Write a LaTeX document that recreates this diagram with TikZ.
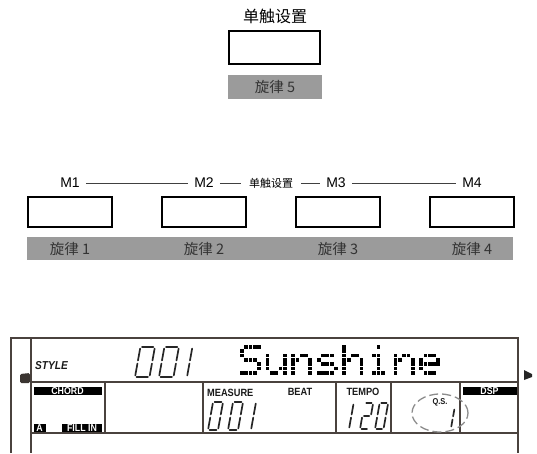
\documentclass[tikz,border=0pt]{standalone}
\usepackage{fontspec}
\setmainfont{Liberation Sans}
\newfontfamily\cjk{Noto Sans CJK SC}
\newfontfamily\lcdfont[FakeStretch=0.88]{Liberation Sans}
\usetikzlibrary{positioning,calc}
\definecolor{barfill}{HTML}{9B9B9B}
\definecolor{lcdline}{HTML}{4A423E}
\tikzset{
    key/.style = {draw, rectangle, line width=2.4pt,
        minimum width=84pt, minimum height=30pt, inner sep=0pt},
    mlabel/.style = {font=\fontsize{14}{16}\selectfont, inner xsep=6pt, inner ysep=0pt},
    touch/.style = {font=\cjk\fontsize{11}{13}\selectfont, inner xsep=8pt, inner ysep=0pt},
    bar/.style = {fill=barfill, inner sep=0pt, minimum height=23pt,
        text=black!80, font=\cjk\fontsize{14.5}{16}\selectfont},
    tag/.style = {fill=black, text=white, inner sep=0pt, minimum height=8pt,
        font=\lcdfont\bfseries\fontsize{10}{10}\selectfont},
    lcdtext/.style = {inner sep=0pt, text=black!90,
        font=\lcdfont\bfseries\fontsize{10.5}{10.5}\selectfont},
    lcd/.style = {draw=lcdline, line width=1.4pt},
    lcdseg/.style = {draw=black!85, line width=1.7pt, line cap=round,
        shorten >=1.6pt, shorten <=1.6pt}
}
% seven segment digit: x, y (top), width, height, segments
\def\digzero{a,b,c,d,e,f}
\def\digone{b,c}
\def\digtwo{a,b,g,e,d}
\newcommand\lcddigit[5]{%
    \begin{scope}[shift={(#1,#2)}]
        \coordinate (a1) at (0.18*#4,0);      \coordinate (a2) at (0.18*#4+#3,0);
        \coordinate (b1) at (0.18*#4+#3,0);   \coordinate (b2) at (0.09*#4+#3,#4/2);
        \coordinate (c1) at (0.09*#4+#3,#4/2); \coordinate (c2) at (#3,#4);
        \coordinate (d1) at (0,#4);           \coordinate (d2) at (#3,#4);
        \coordinate (e1) at (0.09*#4,#4/2);   \coordinate (e2) at (0,#4);
        \coordinate (f1) at (0.18*#4,0);      \coordinate (f2) at (0.09*#4,#4/2);
        \coordinate (g1) at (0.09*#4,#4/2);   \coordinate (g2) at (0.09*#4+#3,#4/2);
        \foreach \s in #5 {\draw[lcdseg] (\s1) -- (\s2);}
    \end{scope}}
% 5x7 dot matrix glyph: x, rows (bits, left column first)
\newcommand\dotglyph[2]{%
    \foreach \r [count=\j] in {#2}{
        \foreach \c in {1,...,5}{
            \pgfmathtruncatemacro\bit{mod(floor(\r/2^(5-\c)),2)}
            \ifnum\bit=1
                \fill[black] (#1+\c*4.3-4.3,345+\j*4.3-4.3) rectangle +(3.8,3.8);
            \fi
        }
    }}

\begin{document}
\begin{tikzpicture}[x=1pt, y=-1pt]
        \useasboundingbox (0,0) rectangle (537,453);
        % single touch key
        \node [touch, font=\cjk\fontsize{16}{18}\selectfont, inner sep=0pt] (touchtop) at (275,16) {单触设置};
        \node [key, minimum width=91pt, minimum height=33pt] (key5) at (274.5,47.5) {};
        \node [bar, minimum width=94pt, minimum height=24pt] (bar5) at (275,87) {旋律 5};
        % memory keys
        \node [mlabel] (m1) at (70,183) {M1};
        \node [mlabel, right of=m1, node distance=134pt] (m2) {M2};
        \node [touch, right of=m2, node distance=67pt] (touchmid) {单触设置};
        \node [mlabel, right of=m2, node distance=132pt] (m3) {M3};
        \node [mlabel, right of=m3, node distance=136pt] (m4) {M4};
        \draw [black!75, line width=0.8pt] (m1) -- (m2);
        \draw [black!75, line width=0.8pt] (m2) -- (touchmid);
        \draw [black!75, line width=0.8pt] (touchmid) -- (m3);
        \draw [black!75, line width=0.8pt] (m3) -- (m4);
        \node [bar, minimum width=486pt] (melbar) at (270,248.5) {};
        \foreach \a/\x in {1/70,2/204,3/338,4/472}{
            \node [key] (key\a) at (\x,212) {};
            \node [bar, fill=none] (mel\a) at (\x,249) {旋律 \a};
        }
        % lcd frame
        \draw [lcd] (11,453) -- (11,338) -- (518,338) -- (518,453);
        \draw [lcd] (31,338) -- (31,453);
        \draw [lcd] (31,382) -- (518,382);
        \draw [lcd] (31,433) -- (518,433);
        \foreach \x in {105,203,336,391,460}
            \draw [lcd] (\x,382) -- (\x,433);
        \fill [lcdline!80!black, rounded corners=1.5pt] (30,373) -- (20,374) -- (20,383) -- (30,383) -- cycle;
        \fill [black!85] (524,370) -- (532,374) -- (532,377) -- (524,380) -- cycle;
        % lcd texts
        \node [lcdtext, font=\lcdfont\bfseries\itshape\fontsize{11.5}{11.5}\selectfont, anchor=west] (style) at (35,366) {STYLE};
        \node [tag, minimum width=68pt] (chord) at (67.5,391) {CHORD};
        \node [tag, minimum width=12pt] (accA) at (39.5,428) {A};
        \node [tag, minimum width=40pt] (fillin) at (82,428) {FILL IN};
        \node [tag, minimum width=54pt] (dsp) at (489.5,391) {DSP};
        \node [lcdtext, anchor=west] (measure) at (207,393) {MEASURE};
        \node [lcdtext] (beat) at (300,392) {BEAT};
        \node [lcdtext] (tempo) at (363,392) {TEMPO};
        \node [lcdtext, font=\lcdfont\bfseries\fontsize{8.5}{8.5}\selectfont] (qs) at (440,402) {Q.S.};
        \draw [black!45, dashed, dash pattern=on 9pt off 4pt, line width=1.3pt] (440,413) ellipse (28pt and 19pt);
        % digits
        \lcddigit{135}{347}{14.5}{30}{\digzero}
        \lcddigit{159}{347}{14.5}{30}{\digzero}
        \lcddigit{172.5}{347}{14.5}{30}{\digone}
        \lcddigit{208}{402}{10}{28}{\digzero}
        \lcddigit{228}{402}{10}{28}{\digzero}
        \lcddigit{241}{402}{10}{28}{\digone}
        \lcddigit{340.5}{403}{8.5}{26}{\digone}
        \lcddigit{360}{403}{8.5}{26}{\digtwo}
        \lcddigit{375}{403}{8.5}{26}{\digzero}
        \lcddigit{445}{408}{6}{20}{\digone}
        % song name
        \dotglyph{240}{15,16,16,14,1,1,30}
        \dotglyph{265.6}{0,0,17,17,17,19,13}
        \dotglyph{291.2}{0,0,22,25,17,17,17}
        \dotglyph{316.8}{0,0,14,16,14,1,30}
        \dotglyph{342.4}{16,16,22,25,17,17,17}
        \dotglyph{368}{4,0,12,4,4,4,14}
        \dotglyph{393.6}{0,0,22,25,17,17,17}
        \dotglyph{419.2}{0,0,14,17,31,16,14}
\end{tikzpicture}
\end{document}
